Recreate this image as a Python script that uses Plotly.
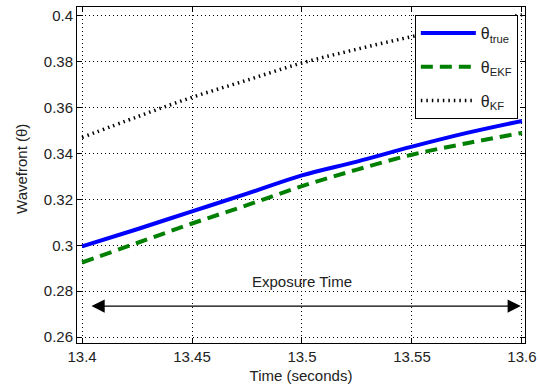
import plotly.graph_objects as go

time_s = [13.4, 13.425, 13.45, 13.475, 13.5, 13.525, 13.55, 13.575, 13.6]
theta_true = [0.2995, 0.3070, 0.3148, 0.3225, 0.3305, 0.3365, 0.3430, 0.3490, 0.3542]
theta_ekf = [0.2925, 0.3010, 0.3095, 0.3175, 0.3258, 0.3330, 0.3395, 0.3445, 0.3490]
theta_kf = [0.3470, 0.3560, 0.3645, 0.3720, 0.3795, 0.3855, 0.3910, 0.3960, 0.4005]

x_ticks = [13.4, 13.45, 13.5, 13.55, 13.6]
x_labels = ["13.4", "13.45", "13.5", "13.55", "13.6"]
y_ticks = [0.26, 0.28, 0.3, 0.32, 0.34, 0.36, 0.38, 0.4]
y_labels = ["0.26", "0.28", "0.3", "0.32", "0.34", "0.36", "0.38", "0.4"]

exposure_start, exposure_end, exposure_level = 13.4036, 13.5995, 0.2735
exposure_label = "Exposure Time"
y_title = "Wavefront (θ)"
x_title = "Time (seconds)"

FONT = "Liberation Sans, Arial, sans-serif"
TXT = "#222222"

fig = go.Figure()
fig.add_trace(go.Scatter(x=time_s, y=theta_true, mode="lines", name="θ<sub>true</sub>",
                         legendgroup="a",
                         line=dict(color="#0000FF", width=4, shape="spline")))
fig.add_trace(go.Scatter(x=time_s, y=theta_ekf, mode="lines", name="θ<sub>EKF</sub>",
                         legendgroup="b",
                         line=dict(color="#008000", width=4, dash="12px,7px", shape="spline")))
fig.add_trace(go.Scatter(x=time_s, y=theta_kf, mode="lines", name="θ<sub>KF</sub>",
                         legendgroup="c",
                         line=dict(color="#000000", width=3.5, dash="1.5px,4px", shape="spline")))

# double-headed arrow
fig.add_annotation(x=exposure_end, y=exposure_level, ax=exposure_start, ay=exposure_level,
                   xref="x", yref="y", axref="x", ayref="y", text="", showarrow=True,
                   arrowhead=2, startarrowhead=2, arrowside="end+start",
                   arrowsize=2.2, startarrowsize=2.2, arrowwidth=1.2, arrowcolor="black")
fig.add_annotation(x=(x_ticks[0] + x_ticks[-1]) / 2, y=exposure_level, xref="x", yref="y",
                   text=exposure_label, showarrow=False, yanchor="middle", yshift=25,
                   font=dict(family=FONT, size=15, color=TXT))
# y-axis title
fig.add_annotation(x=0, y=0.518, xref="paper", yref="paper", text=y_title, textangle=-90,
                   showarrow=False, xanchor="center", yanchor="middle", xshift=-55,
                   font=dict(family=FONT, size=15, color=TXT))

axis_common = dict(showline=True, linecolor="black", linewidth=1, mirror="allticks",
                   ticks="inside", ticklen=5, tickcolor="black", automargin=False,
                   showgrid=True, gridcolor="black", gridwidth=1, griddash="1px,3px",
                   zeroline=False, tickfont=dict(family=FONT, size=15, color=TXT))

fig.update_xaxes(range=[13.3977, 13.6014], tickvals=x_ticks, ticktext=x_labels,
                 title=dict(text=x_title, font=dict(family=FONT, size=15, color=TXT),
                            standoff=6), **axis_common)
fig.update_yaxes(range=[0.2574, 0.4039], tickvals=y_ticks, ticktext=y_labels, **axis_common)

fig.update_layout(
    width=540, height=390,
    margin=dict(l=77, r=15, t=7, b=47),
    paper_bgcolor="white", plot_bgcolor="white",
    showlegend=True,
    legend=dict(x=0.984, y=0.976, xanchor="right", yanchor="top",
                bgcolor="white", bordercolor="black", borderwidth=1,
                itemwidth=55, tracegroupgap=10,
                font=dict(family=FONT, size=16, color=TXT)),
)

fig.write_html("out.html", config={"displayModeBar": False},
               post_script="document.body.style.margin='0';")
